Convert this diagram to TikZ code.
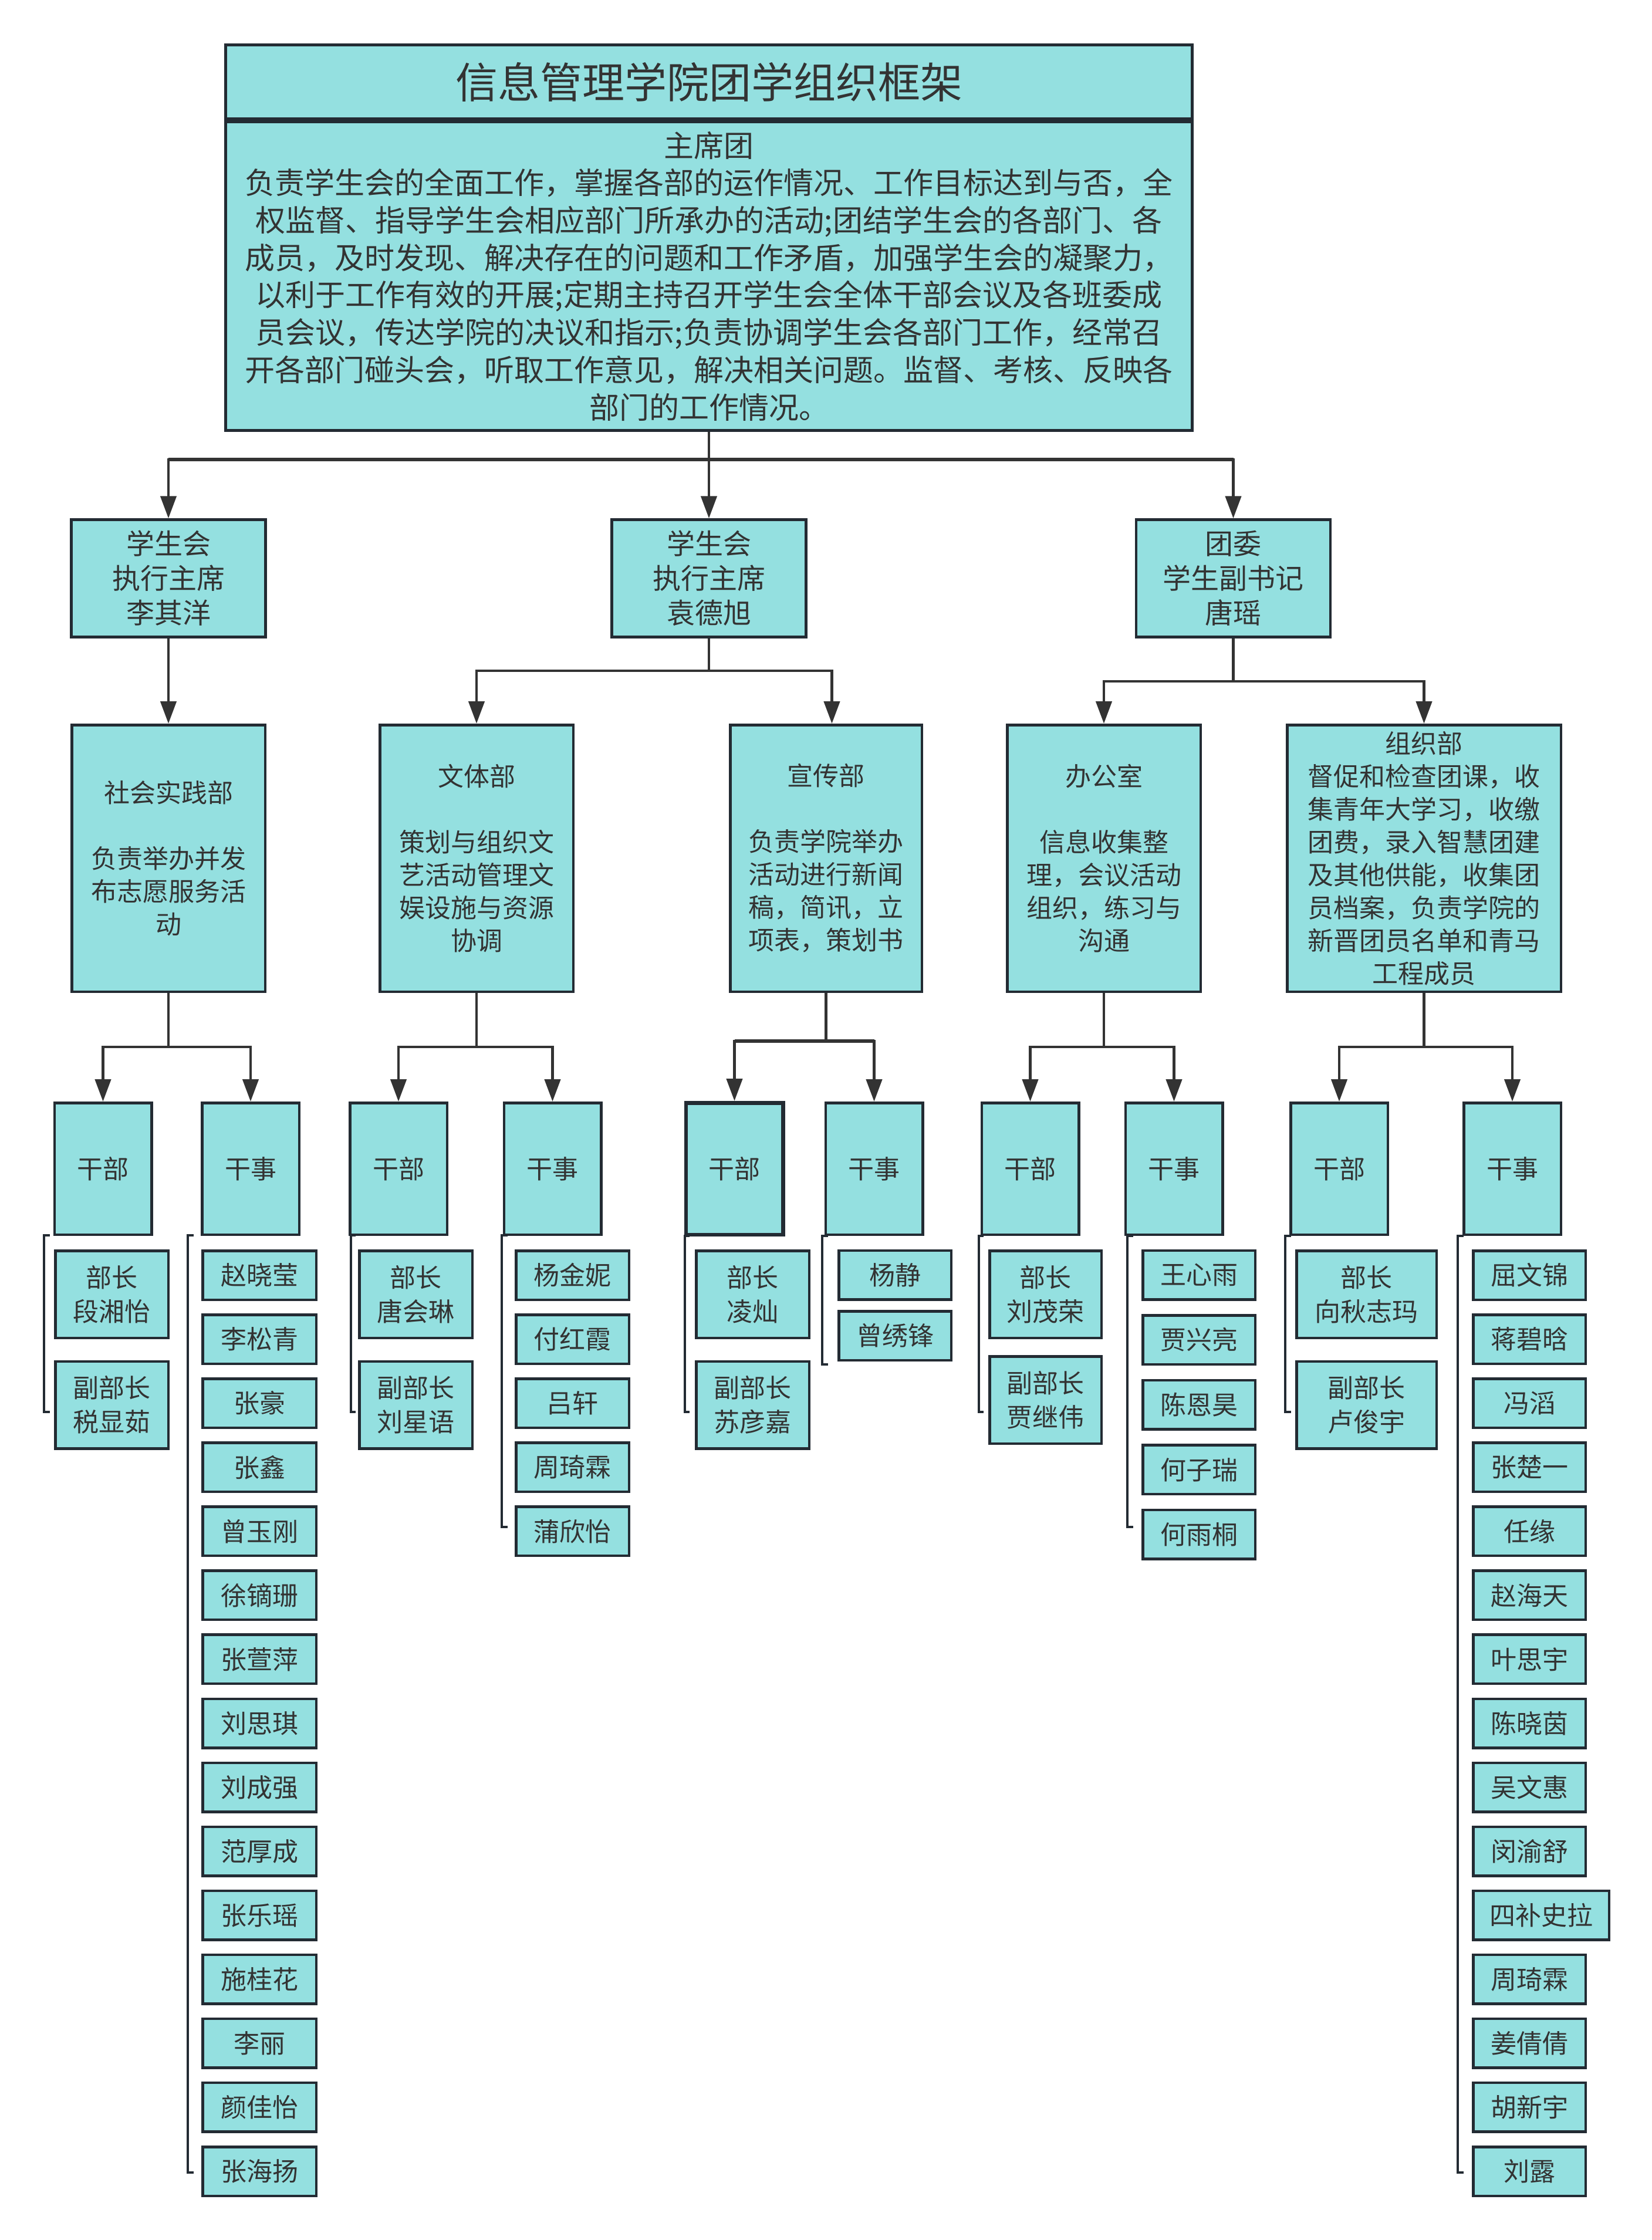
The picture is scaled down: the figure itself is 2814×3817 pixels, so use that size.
\documentclass[tikz,border=0pt]{standalone}
\usepackage{fontspec}
\setmainfont{Noto Sans CJK SC}
\usetikzlibrary{arrows.meta}
\definecolor{boxfill}{HTML}{94E0E0}
\definecolor{boxline}{HTML}{232B33}
\definecolor{txt}{HTML}{333333}
\definecolor{conncol}{HTML}{333333}
\begin{document}
\begin{tikzpicture}[x=1pt,y=-1pt,
  box/.style={draw=boxline, fill=boxfill, line width=4.5pt, text=txt, align=center, inner sep=0pt},
  conn/.style={draw=conncol, line width=4.5pt},
  arr/.style={conn, -{Triangle[length=38pt,width=27pt]}},
  bracket/.style={draw=boxline, line width=4.5pt},
  ftitle/.style={font=\fontsize{72}{86}\selectfont},
  fbody/.style={font=\fontsize{51}{63.7}\selectfont},
  ftwo/.style={font=\fontsize{48}{59}\selectfont},
  fthree/.style={font=\fontsize{44}{56}\selectfont},
  lthree/.style={box, fthree, minimum height=454.5pt},
  lfour/.style={box, fthree, minimum width=165.5pt, minimum height=224.5pt},
  mem/.style={box, anchor=west, font=\fontsize{44}{58}\selectfont, minimum height=83.5pt},
  memtwo/.style={mem, minimum height=148.5pt}
]
\useasboundingbox[fill=white] (0,0) rectangle (2814,3817);

% ---------- top box ----------
\node[box, line width=5pt, ftitle, minimum width=1647pt, minimum height=126pt] (title) at (1208,139.5) {信息管理学院团学组织框架};
\node[box, line width=5pt, fbody, minimum width=1647pt, minimum height=526pt] (body) at (1208,470.5)
 {主席团\\负责学生会的全面工作，掌握各部的运作情况、工作目标达到与否，全\\权监督、指导学生会相应部门所承办的活动;团结学生会的各部门、各\\成员，及时发现、解决存在的问题和工作矛盾，加强学生会的凝聚力，\\以利于工作有效的开展;定期主持召开学生会全体干部会议及各班委成\\员会议，传达学院的决议和指示;负责协调学生会各部门工作，经常召\\开各部门碰头会，听取工作意见，解决相关问题。监督、考核、反映各\\部门的工作情况。};

% ---------- level 2 ----------
\node[box, ftwo, minimum width=331pt, minimum height=200pt] (exA) at (287,985.5) {学生会\\执行主席\\李其洋};
\node[box, ftwo, minimum width=331pt, minimum height=200pt] (exB) at (1208,985.5) {学生会\\执行主席\\袁德旭};
\node[box, ftwo, minimum width=331pt, minimum height=200pt] (tw) at (2101.5,985.5) {团委\\学生副书记\\唐瑶};

% ---------- level 3 ----------
\node[lthree, minimum width=329.5pt] (shsj) at (287,1462.5) {社会实践部\\[56pt]负责举办并发\\布志愿服务活\\动};
\node[lthree, minimum width=329.5pt] (wt) at (812,1462.5) {文体部\\[56pt]策划与组织文\\艺活动管理文\\娱设施与资源\\协调};
\node[lthree, minimum width=326.5pt] (xc) at (1407.5,1462.5) {宣传部\\[56pt]负责学院举办\\活动进行新闻\\稿，简讯，立\\项表，策划书};
\node[lthree, minimum width=329.5pt] (bgs) at (1881,1462.5) {办公室\\[56pt]信息收集整\\理，会议活动\\组织，练习与\\沟通};
\node[lthree, minimum width=466.5pt] (zz) at (2426.5,1462.5) {组织部\\督促和检查团课，收\\集青年大学习，收缴\\团费，录入智慧团建\\及其他供能，收集团\\员档案，负责学院的\\新晋团员名单和青马\\工程成员};

% ---------- level 4 ----------
\node[lfour] (gbA) at (175.5,1991.5) {干部};
\node[lfour] (gsA) at (427,1991.5) {干事};
\node[lfour] (gbB) at (679,1991.5) {干部};
\node[lfour] (gsB) at (941.5,1991.5) {干事};
\node[lfour, line width=6.5pt] (gbC) at (1251.5,1991.5) {干部};
\node[lfour] (gsC) at (1489.5,1991.5) {干事};
\node[lfour] (gbD) at (1755.5,1991.5) {干部};
\node[lfour] (gsD) at (2000.5,1991.5) {干事};
\node[lfour] (gbE) at (2282,1991.5) {干部};
\node[lfour] (gsE) at (2577,1991.5) {干事};

% ---------- connectors ----------
\coordinate (j0) at (1208,783);
\draw[arr] (body.south) -- (exB.north);
\draw[arr] (j0) -| (exA.north);
\draw[arr] (j0) -| (tw.north);
\draw[conn, line width=6pt] (exA.north |- j0) -- (tw.north |- j0);

\draw[arr] (exA.south) -- (shsj.north);

\coordinate (j1) at (1208,1143);
\draw[conn] (exB.south) -- (j1);
\draw[arr] (j1) -| (wt.north);
\draw[arr] (j1) -| ([xshift=10pt]xc.north);

\coordinate (j2) at (2101.5,1161);
\draw[conn] (tw.south) -- (j2);
\draw[arr] (j2) -| (bgs.north);
\draw[arr] (j2) -| (zz.north);

\coordinate (k1) at (287,1784);
\draw[conn] (shsj.south) -- (k1);
\draw[arr] (k1) -| (gbA.north);
\draw[arr] (k1) -| (gsA.north);

\coordinate (k2) at (812,1784);
\draw[conn] (wt.south) -- (k2);
\draw[arr] (k2) -| (gbB.north);
\draw[arr] (k2) -| (gsB.north);

\coordinate (k3) at (1407.5,1774);
\draw[conn] (xc.south) -- (k3);
\draw[arr] (k3) -| (gbC.north);
\draw[arr] (k3) -| (gsC.north);
\draw[conn, line width=6.5pt] (gbC.north |- k3) -- (gsC.north |- k3);

\coordinate (k4) at (1881,1784);
\draw[conn] (bgs.south) -- (k4);
\draw[arr] (k4) -| (gbD.north);
\draw[arr] (k4) -| (gsD.north);

\coordinate (k5) at (2426.5,1784);
\draw[conn] (zz.south) -- (k5);
\draw[arr] (k5) -| (gbE.north);
\draw[arr] (k5) -| (gsE.north);

% ---------- level 5 members ----------
% group A
\node[memtwo, minimum width=192.5pt] (a0) at (92.25,2205.5) {部长\\段湘怡};
\node[memtwo, minimum width=192.5pt] (a1) at (92.25,2394) {副部长\\税显茹};
% group B
\foreach \n [count=\i from 0] in {赵晓莹,李松青,张豪,张鑫,曾玉刚,徐镝珊,张萱萍,刘思琪,刘成强,范厚成,张乐瑶,施桂花,李丽,颜佳怡,张海扬}
  \node[mem, minimum width=193.5pt] (b\i) at (343.25,{2173+\i*109.07}) {\n};
% group C
\node[memtwo, minimum width=192.5pt] (c0) at (610.25,2205.5) {部长\\唐会琳};
\node[memtwo, minimum width=192.5pt] (c1) at (610.25,2394) {副部长\\刘星语};
% group D
\foreach \n [count=\i from 0] in {杨金妮,付红霞,吕轩,周琦霖,蒲欣怡}
  \node[mem, minimum width=192.5pt] (d\i) at (877.25,{2173+\i*109.07}) {\n};
% group E
\node[memtwo, minimum width=192.5pt] (e0) at (1184.25,2205.5) {部长\\凌灿};
\node[memtwo, minimum width=192.5pt] (e1) at (1184.25,2394) {副部长\\苏彦嘉};
% group F
\node[mem, minimum width=191.5pt] (f0) at (1427.25,2172.5) {杨静};
\node[mem, minimum width=191.5pt] (f1) at (1427.25,2276) {曾绣锋};
% group G
\node[memtwo, minimum width=190.5pt] (g0) at (1684.25,2205.5) {部长\\刘茂荣};
\node[memtwo, minimum width=190.5pt] (g1) at (1684.25,2385.5) {副部长\\贾继伟};
% group H
\foreach \n [count=\i from 0] in {王心雨,贾兴亮,陈恩昊,何子瑞,何雨桐}
  \node[mem, minimum width=191.5pt] (h\i) at (1945.25,{2172.5+\i*110.6}) {\n};
% group I
\node[memtwo, minimum width=238.5pt] (i0) at (2207.25,2205.5) {部长\\向秋志玛};
\node[memtwo, minimum width=238.5pt] (i1) at (2207.25,2394) {副部长\\卢俊宇};
% group J
\foreach \n/\w [count=\i from 0] in {屈文锦/191.5,蒋碧晗/191.5,冯滔/191.5,张楚一/191.5,任缘/191.5,赵海天/191.5,叶思宇/191.5,陈晓茵/191.5,吴文惠/191.5,闵渝舒/191.5,四补史拉/231.5,周琦霖/191.5,姜倩倩/191.5,胡新宇/191.5,刘露/191.5}
  \node[mem, minimum width=\w pt] (jj\i) at (2508.25,{2173+\i*109.07}) {\n};

% ---------- brackets ----------
\draw[bracket] (85,2105) -- (75,2105) -- (75,2406) -- (85,2406);
\draw[bracket] (330,2105) -- (320,2105) -- (320,3702) -- (330,3702);
\draw[bracket] (606,2105) -- (598,2105) -- (598,2406) -- (606,2406);
\draw[bracket] (865,2105) -- (855,2105) -- (855,2602) -- (865,2602);
\draw[bracket] (1175,2106) -- (1167,2106) -- (1167,2406) -- (1175,2406);
\draw[bracket] (1411,2106) -- (1401,2106) -- (1401,2325) -- (1411,2325);
\draw[bracket] (1676,2106) -- (1668,2106) -- (1668,2406) -- (1676,2406);
\draw[bracket] (1931,2106) -- (1921,2106) -- (1921,2602) -- (1931,2602);
\draw[bracket] (2200,2106) -- (2190,2106) -- (2190,2406) -- (2200,2406);
\draw[bracket] (2494,2106) -- (2484,2106) -- (2484,3702) -- (2494,3702);
\end{tikzpicture}
\end{document}
